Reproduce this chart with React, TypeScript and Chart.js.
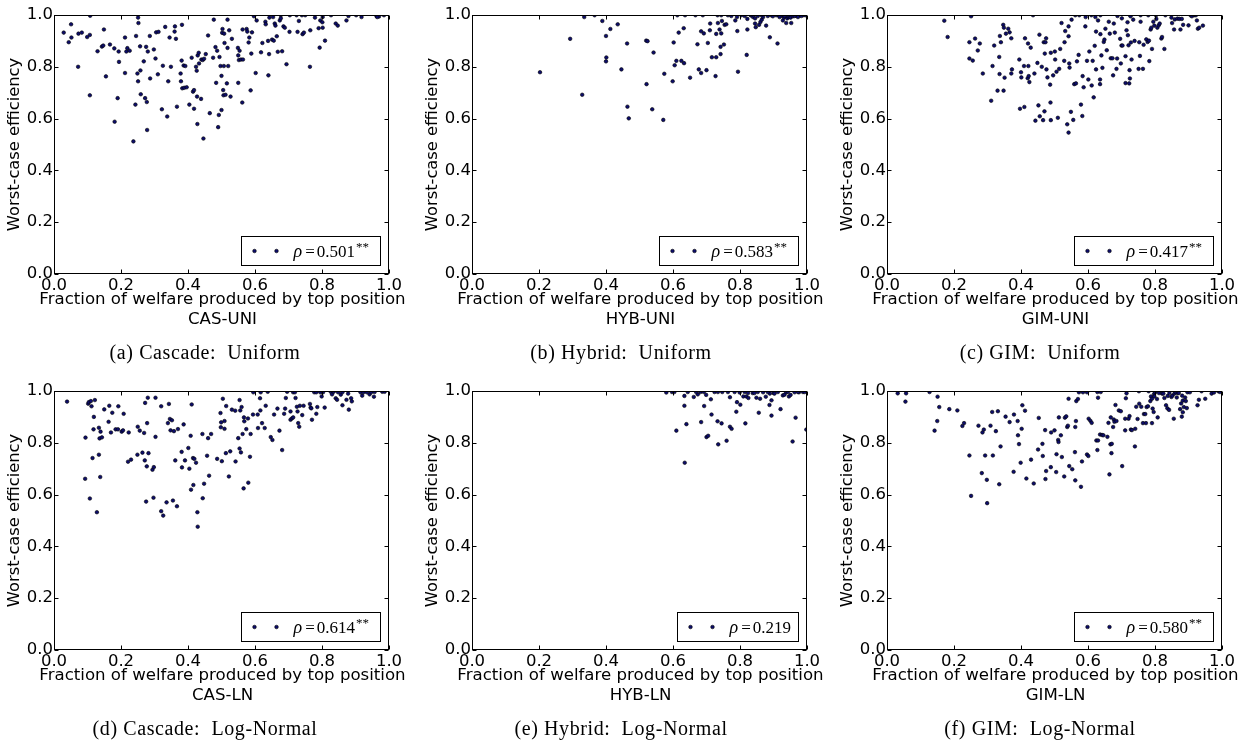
import React, { useEffect, useRef } from "react";
import { Chart, registerables } from "chart.js";
Chart.register(...registerables);

const AXIS_TICKS = [0, 0.2, 0.4, 0.6, 0.8, 1.0];
const X_TITLE = "Fraction of welfare produced by top position";
const Y_TITLE = "Worst-case efficiency";

const CAS_UNI: [number, number][] = [
  [0.029,0.932],[0.044,0.895],[0.051,0.964],[0.052,0.913],[0.073,0.928],[0.083,0.932],[0.072,0.800],[0.099,0.915],
  [0.107,0.923],[0.108,0.997],[0.107,0.690],[0.130,0.860],[0.143,0.878],[0.147,0.882],[0.149,0.944],[0.155,0.763],
  [0.167,0.886],[0.180,0.871],[0.181,0.588],[0.190,0.679],[0.193,0.859],[0.194,0.819],[0.212,0.913],[0.212,0.776],
  [0.216,0.859],[0.219,0.872],[0.226,0.862],[0.237,0.512],[0.243,0.654],[0.245,0.919],[0.249,0.774],[0.251,0.744],
  [0.251,0.990],[0.252,0.969],[0.257,0.879],[0.258,0.786],[0.259,0.694],[0.268,0.821],[0.272,0.679],[0.275,0.877],
  [0.277,0.664],[0.278,0.556],[0.280,0.859],[0.286,0.919],[0.287,0.755],[0.298,0.867],[0.303,0.832],[0.305,0.933],
  [0.312,0.935],[0.310,0.771],[0.322,0.636],[0.325,0.804],[0.332,0.954],[0.338,0.608],[0.341,0.744],[0.345,0.913],
  [0.349,0.800],[0.360,0.936],[0.361,0.956],[0.364,0.908],[0.367,0.646],[0.378,0.774],[0.379,0.744],[0.381,0.824],
  [0.382,0.962],[0.383,0.717],[0.387,0.805],[0.392,0.803],[0.389,0.719],[0.396,0.721],[0.404,0.654],[0.411,0.835],
  [0.415,0.704],[0.418,0.710],[0.418,0.638],[0.424,0.800],[0.426,0.785],[0.429,0.844],[0.428,0.579],[0.427,0.685],
  [0.432,0.854],[0.433,0.813],[0.439,0.676],[0.440,0.828],[0.444,0.826],[0.446,0.523],[0.448,0.831],[0.453,0.849],
  [0.460,0.921],[0.465,0.621],[0.475,0.835],[0.477,0.982],[0.482,0.876],[0.484,0.738],[0.487,0.862],[0.490,0.567],
  [0.492,0.614],[0.494,0.838],[0.497,0.803],[0.500,0.633],[0.500,0.765],[0.502,0.931],[0.503,0.946],[0.505,0.710],
  [0.507,0.803],[0.508,0.928],[0.506,0.690],[0.509,0.892],[0.512,0.692],[0.516,0.736],[0.518,0.873],[0.518,0.982],
  [0.520,0.803],[0.523,0.941],[0.527,0.685],[0.531,0.908],[0.549,0.873],[0.550,0.844],[0.550,0.738],[0.552,0.826],
  [0.554,0.862],[0.558,0.828],[0.563,0.944],[0.562,0.662],[0.564,0.828],[0.575,0.946],[0.577,0.936],[0.581,0.894],
  [0.583,0.913],[0.587,0.709],[0.589,0.851],[0.591,0.933],[0.597,0.995],[0.602,0.776],[0.605,0.979],[0.618,0.856],
  [0.622,0.892],[0.631,0.974],[0.632,0.964],[0.639,0.900],[0.640,0.767],[0.642,0.849],[0.643,0.990],[0.651,0.905],
  [0.654,0.992],[0.656,0.901],[0.659,0.967],[0.661,0.959],[0.665,0.918],[0.668,0.858],[0.674,0.979],[0.677,0.999],
  [0.677,0.987],[0.681,0.860],[0.685,0.956],[0.689,0.951],[0.694,0.810],[0.703,0.935],[0.704,0.999],[0.724,0.999],
  [0.727,0.935],[0.731,0.977],[0.740,0.999],[0.742,0.926],[0.746,0.932],[0.750,0.999],[0.764,0.800],[0.765,0.941],
  [0.779,0.990],[0.790,0.949],[0.793,0.874],[0.795,0.979],[0.801,0.972],[0.802,0.951],[0.802,0.992],[0.809,0.901],
  [0.827,0.999],[0.841,0.967],[0.847,0.959],[0.873,0.979],[0.879,0.996],[0.902,0.999],[0.918,0.992],[0.963,0.995],
  [0.970,0.994],[0.985,0.999],[0.965,0.992]
];

const HYB_UNI: [number, number][] = [
  [0.203,0.779],[0.293,0.908],[0.329,0.692],[0.335,0.992],[0.366,0.999],[0.389,0.977],[0.400,0.919],[0.401,0.836],
  [0.400,0.821],[0.413,0.946],[0.435,0.964],[0.446,0.790],[0.463,0.890],[0.464,0.646],[0.468,0.601],[0.520,0.901],
  [0.524,0.899],[0.521,0.733],[0.538,0.636],[0.542,0.855],[0.571,0.595],[0.574,0.773],[0.599,0.744],[0.602,0.894],
  [0.605,0.806],[0.610,0.823],[0.617,0.932],[0.613,0.999],[0.625,0.823],[0.633,0.814],[0.632,0.949],[0.636,0.999],
  [0.651,0.758],[0.667,0.999],[0.673,0.887],[0.677,0.790],[0.684,0.776],[0.684,0.937],[0.692,0.929],[0.689,0.999],
  [0.700,0.787],[0.704,0.892],[0.710,0.941],[0.711,0.967],[0.716,0.837],[0.727,0.764],[0.729,0.837],[0.729,0.927],
  [0.734,0.969],[0.739,0.944],[0.742,0.849],[0.742,0.877],[0.744,0.929],[0.746,0.977],[0.752,0.886],[0.754,0.962],
  [0.759,0.964],[0.733,0.999],[0.744,0.999],[0.764,0.999],[0.774,0.996],[0.786,0.979],[0.792,0.938],[0.794,0.781],
  [0.791,0.992],[0.804,0.999],[0.820,0.846],[0.822,0.944],[0.822,0.985],[0.832,0.999],[0.839,0.992],[0.845,0.987],
  [0.845,0.967],[0.847,0.953],[0.857,0.962],[0.861,0.973],[0.865,0.982],[0.869,0.992],[0.878,0.959],[0.889,0.914],
  [0.893,0.999],[0.912,0.890],[0.915,0.999],[0.928,0.979],[0.931,0.990],[0.938,0.969],[0.941,0.987],[0.945,0.992],
  [0.953,0.969],[0.951,0.990],[0.958,0.995],[0.968,0.997],[0.978,0.999],[0.988,0.999],[0.995,0.999],[0.908,0.999],
  [0.923,0.997],[0.864,0.999],[0.853,0.996],[0.814,0.996],[0.898,0.995],[0.933,0.996],[0.963,0.996],[0.973,0.992],
  [0.983,0.996],[0.943,0.999],[0.918,0.992],[0.883,0.996],[0.833,0.999]
];

const GIM_UNI: [number, number][] = [
  [0.171,0.978],[0.181,0.915],[0.251,0.995],[0.246,0.895],[0.246,0.832],[0.256,0.824],[0.263,0.909],[0.271,0.863],
  [0.277,0.890],[0.286,0.774],[0.311,0.669],[0.315,0.803],[0.320,0.882],[0.330,0.708],[0.335,0.838],[0.336,0.772],
  [0.337,0.919],[0.340,0.895],[0.348,0.708],[0.347,0.962],[0.349,0.951],[0.351,0.758],[0.355,0.928],[0.362,0.947],
  [0.366,0.933],[0.371,0.910],[0.371,0.774],[0.373,0.790],[0.395,0.828],[0.397,0.638],[0.400,0.779],[0.401,0.759],
  [0.409,0.803],[0.410,0.645],[0.412,0.910],[0.420,0.756],[0.421,0.890],[0.422,0.803],[0.423,0.764],[0.425,0.741],
  [0.429,0.874],[0.436,0.999],[0.440,0.774],[0.443,0.592],[0.449,0.815],[0.452,0.651],[0.455,0.924],[0.456,0.609],
  [0.462,0.800],[0.466,0.594],[0.468,0.895],[0.470,0.628],[0.471,0.851],[0.473,0.895],[0.475,0.910],[0.476,0.790],
  [0.479,0.759],[0.487,0.731],[0.488,0.662],[0.489,0.594],[0.489,0.854],[0.496,0.767],[0.501,0.859],[0.502,0.828],
  [0.506,0.781],[0.510,0.603],[0.514,0.792],[0.517,0.869],[0.521,0.969],[0.529,0.823],[0.530,0.895],[0.532,0.938],
  [0.538,0.578],[0.542,0.956],[0.542,0.546],[0.542,0.918],[0.544,0.813],[0.545,0.797],[0.549,0.626],[0.551,0.982],
  [0.556,0.595],[0.559,0.733],[0.562,0.999],[0.564,0.736],[0.567,0.821],[0.572,0.846],[0.574,0.999],[0.579,0.654],
  [0.583,0.610],[0.584,0.764],[0.587,0.721],[0.592,0.956],[0.593,0.992],[0.597,0.823],[0.601,0.751],[0.604,0.859],
  [0.611,0.728],[0.610,0.999],[0.614,0.823],[0.617,0.682],[0.620,0.881],[0.622,0.992],[0.624,0.936],[0.624,0.790],
  [0.630,0.979],[0.636,0.751],[0.636,0.733],[0.637,0.999],[0.637,0.926],[0.640,0.844],[0.643,0.796],[0.647,0.896],
  [0.649,0.905],[0.652,0.947],[0.656,0.864],[0.662,0.974],[0.665,0.928],[0.668,0.833],[0.673,0.833],[0.675,0.767],
  [0.677,0.967],[0.680,0.932],[0.685,0.792],[0.688,0.996],[0.687,0.832],[0.696,0.908],[0.698,0.813],[0.701,0.987],
  [0.700,0.882],[0.703,0.882],[0.712,0.841],[0.712,0.737],[0.715,0.941],[0.718,0.972],[0.719,0.922],[0.721,0.883],
  [0.723,0.736],[0.725,0.755],[0.724,0.787],[0.726,0.999],[0.727,0.995],[0.728,0.894],[0.730,0.828],[0.735,0.982],
  [0.739,0.900],[0.751,0.792],[0.753,0.895],[0.755,0.842],[0.757,0.974],[0.757,0.999],[0.764,0.792],[0.766,0.885],
  [0.774,0.906],[0.778,0.896],[0.780,0.999],[0.782,0.901],[0.783,0.822],[0.787,0.944],[0.789,0.951],[0.791,0.869],
  [0.795,0.974],[0.798,0.959],[0.803,0.999],[0.804,0.985],[0.807,0.951],[0.811,0.960],[0.814,0.967],[0.819,0.909],
  [0.821,0.915],[0.828,0.869],[0.831,0.999],[0.849,0.990],[0.851,0.969],[0.857,0.944],[0.859,0.983],[0.867,0.986],
  [0.873,0.985],[0.876,0.944],[0.880,0.985],[0.884,0.962],[0.900,0.960],[0.906,0.999],[0.910,0.995],[0.917,0.999],
  [0.922,0.999],[0.925,0.979],[0.928,0.947],[0.932,0.951],[0.943,0.959]
];

const CAS_LN: [number, number][] = [
  [0.039,0.959],[0.094,0.820],[0.093,0.661],[0.102,0.951],[0.104,0.957],[0.110,0.961],[0.112,0.941],[0.107,0.585],
  [0.115,0.741],[0.118,0.852],[0.119,0.900],[0.122,0.965],[0.128,0.532],[0.134,0.858],[0.134,0.754],[0.136,0.817],
  [0.138,0.668],[0.139,0.843],[0.143,0.821],[0.150,0.929],[0.163,0.881],[0.165,0.943],[0.170,0.840],[0.174,0.916],
  [0.184,0.852],[0.191,0.852],[0.192,0.941],[0.202,0.843],[0.206,0.848],[0.208,0.912],[0.221,0.727],[0.223,0.840],
  [0.230,0.735],[0.249,0.754],[0.250,0.862],[0.256,0.847],[0.264,0.762],[0.269,0.838],[0.271,0.732],[0.272,0.954],
  [0.275,0.573],[0.277,0.709],[0.278,0.876],[0.280,0.974],[0.282,0.760],[0.294,0.696],[0.298,0.706],[0.297,0.588],
  [0.303,0.974],[0.303,0.823],[0.320,0.941],[0.320,0.536],[0.326,0.519],[0.336,0.570],[0.340,0.876],[0.343,0.950],
  [0.346,0.892],[0.348,0.848],[0.352,0.887],[0.355,0.577],[0.358,0.845],[0.362,0.732],[0.367,0.555],[0.370,0.853],
  [0.381,0.765],[0.382,0.705],[0.387,0.871],[0.391,0.732],[0.401,0.780],[0.404,0.700],[0.408,0.827],[0.409,0.619],
  [0.411,0.948],[0.415,0.741],[0.416,0.637],[0.419,0.738],[0.424,0.723],[0.428,0.532],[0.429,0.476],[0.443,0.834],
  [0.444,0.586],[0.448,0.642],[0.457,0.750],[0.460,0.818],[0.463,0.673],[0.469,0.834],[0.487,0.738],[0.497,0.915],
  [0.498,0.860],[0.499,0.879],[0.501,0.729],[0.504,0.970],[0.509,0.884],[0.509,0.854],[0.513,0.760],[0.514,0.942],
  [0.522,0.670],[0.526,0.767],[0.531,0.928],[0.541,0.924],[0.542,0.728],[0.550,0.818],[0.554,0.778],[0.554,0.965],
  [0.556,0.925],[0.558,0.763],[0.560,0.938],[0.563,0.834],[0.566,0.624],[0.567,0.898],[0.568,0.883],[0.574,0.853],
  [0.579,0.894],[0.580,0.646],[0.585,0.746],[0.587,0.834],[0.594,0.909],[0.595,0.995],[0.608,0.909],[0.609,0.857],
  [0.615,0.972],[0.616,0.925],[0.617,0.995],[0.621,0.876],[0.629,0.857],[0.632,0.943],[0.638,0.997],[0.647,0.822],
  [0.652,0.811],[0.657,0.909],[0.667,0.932],[0.673,0.847],[0.681,0.772],[0.687,0.912],[0.690,0.932],[0.692,0.973],
  [0.696,0.997],[0.706,0.889],[0.706,0.921],[0.710,0.894],[0.714,0.898],[0.714,0.995],[0.719,0.995],[0.721,0.973],
  [0.725,0.939],[0.727,0.921],[0.729,0.876],[0.732,0.862],[0.734,0.943],[0.741,0.907],[0.745,0.943],[0.764,0.950],
  [0.766,0.936],[0.768,0.933],[0.770,0.889],[0.783,0.912],[0.786,0.938],[0.777,0.995],[0.783,0.995],[0.795,0.995],
  [0.799,0.979],[0.808,0.936],[0.803,0.995],[0.826,0.997],[0.830,0.987],[0.835,0.997],[0.841,0.972],[0.845,0.966],
  [0.848,0.995],[0.856,0.986],[0.861,0.945],[0.861,0.995],[0.873,0.966],[0.878,0.990],[0.880,0.928],[0.887,0.972],
  [0.889,0.960],[0.915,0.995],[0.920,0.982],[0.924,0.995],[0.934,0.995],[0.942,0.987],[0.947,0.995],[0.955,0.978],
  [0.980,0.997],[0.987,0.997],[0.957,0.996]
];

const HYB_LN: [number, number][] = [
  [0.580,0.994],[0.597,0.996],[0.604,0.996],[0.610,0.847],[0.634,0.981],[0.634,0.943],[0.635,0.723],[0.640,0.872],
  [0.662,0.977],[0.674,0.987],[0.682,0.996],[0.684,0.880],[0.692,0.996],[0.693,0.942],[0.699,0.985],[0.700,0.822],
  [0.705,0.827],[0.713,0.968],[0.715,0.909],[0.724,0.996],[0.733,0.883],[0.735,0.794],[0.745,0.875],[0.747,0.996],
  [0.764,0.996],[0.770,0.976],[0.770,0.862],[0.775,0.854],[0.760,0.808],[0.789,0.920],[0.791,0.957],[0.801,0.947],
  [0.799,0.994],[0.810,0.979],[0.816,0.875],[0.819,0.979],[0.825,0.973],[0.824,0.992],[0.838,0.992],[0.849,0.974],
  [0.856,0.916],[0.860,0.970],[0.869,0.995],[0.877,0.978],[0.888,0.946],[0.889,0.990],[0.894,0.964],[0.894,0.905],
  [0.900,0.992],[0.921,0.930],[0.928,0.983],[0.933,0.986],[0.946,0.979],[0.951,0.985],[0.957,0.805],[0.966,0.897],
  [0.976,0.995],[0.998,0.851],[0.988,0.996],[0.993,0.996],[0.853,0.996],[0.883,0.996],[0.913,0.996],[0.938,0.995],
  [0.963,0.995],[0.814,0.996],[0.734,0.996],[0.669,0.996],[0.784,0.996],[0.644,0.996],[0.943,0.996],[0.973,0.996],
  [0.843,0.992],[0.903,0.990]
];

const GIM_LN: [number, number][] = [
  [0.032,0.991],[0.055,0.959],[0.057,0.991],[0.127,0.996],[0.142,0.847],[0.150,0.884],[0.151,0.978],[0.156,0.938],
  [0.186,0.930],[0.210,0.925],[0.225,0.865],[0.230,0.876],[0.246,0.751],[0.251,0.595],[0.273,0.866],[0.283,0.683],
  [0.285,0.840],[0.289,0.851],[0.293,0.751],[0.298,0.657],[0.299,0.567],[0.309,0.866],[0.314,0.919],[0.316,0.751],
  [0.325,0.845],[0.331,0.922],[0.335,0.640],[0.339,0.786],[0.354,0.901],[0.366,0.880],[0.378,0.688],[0.379,0.909],
  [0.390,0.884],[0.391,0.829],[0.394,0.795],[0.399,0.723],[0.402,0.854],[0.404,0.945],[0.412,0.924],[0.416,0.662],
  [0.430,0.735],[0.438,0.643],[0.451,0.774],[0.453,0.896],[0.464,0.796],[0.465,0.749],[0.472,0.849],[0.473,0.660],
  [0.475,0.691],[0.489,0.706],[0.490,0.840],[0.500,0.848],[0.505,0.687],[0.506,0.756],[0.511,0.811],[0.512,0.803],
  [0.513,0.898],[0.519,0.829],[0.522,0.745],[0.529,0.670],[0.531,0.897],[0.535,0.902],[0.538,0.861],[0.540,0.866],
  [0.542,0.970],[0.544,0.710],[0.553,0.698],[0.561,0.764],[0.562,0.861],[0.564,0.884],[0.565,0.961],[0.570,0.969],
  [0.562,0.655],[0.579,0.630],[0.582,0.728],[0.573,0.995],[0.585,0.995],[0.597,0.995],[0.597,0.755],[0.601,0.749],
  [0.602,0.893],[0.607,0.885],[0.611,0.877],[0.625,0.809],[0.630,0.809],[0.628,0.772],[0.630,0.974],[0.628,0.996],
  [0.638,0.996],[0.636,0.832],[0.642,0.830],[0.646,0.829],[0.658,0.823],[0.661,0.877],[0.664,0.678],[0.667,0.794],
  [0.668,0.898],[0.670,0.760],[0.671,0.796],[0.675,0.861],[0.677,0.890],[0.679,0.881],[0.682,0.946],[0.685,0.884],
  [0.692,0.925],[0.698,0.922],[0.702,0.710],[0.711,0.848],[0.711,0.893],[0.713,0.972],[0.715,0.991],[0.721,0.893],
  [0.724,0.903],[0.728,0.851],[0.731,0.849],[0.740,0.786],[0.741,0.854],[0.744,0.939],[0.748,0.892],[0.752,0.999],
  [0.753,0.951],[0.759,0.939],[0.764,0.876],[0.767,0.911],[0.771,0.911],[0.773,0.876],[0.775,0.938],[0.779,0.941],
  [0.781,0.999],[0.786,0.961],[0.788,0.979],[0.791,0.876],[0.791,0.970],[0.793,0.932],[0.796,0.919],[0.797,0.988],
  [0.798,0.979],[0.801,0.995],[0.806,0.969],[0.808,0.898],[0.812,0.992],[0.821,0.990],[0.825,0.990],[0.828,0.973],
  [0.833,0.945],[0.837,0.933],[0.838,0.981],[0.842,0.927],[0.843,0.992],[0.849,0.977],[0.852,0.982],[0.856,0.893],
  [0.858,0.990],[0.862,0.995],[0.865,0.975],[0.868,0.992],[0.871,0.992],[0.875,0.930],[0.878,0.952],[0.880,0.901],
  [0.883,0.963],[0.883,0.918],[0.886,0.938],[0.890,0.975],[0.892,0.961],[0.895,0.934],[0.897,0.995],[0.904,0.995],
  [0.927,0.945],[0.931,0.966],[0.939,0.999],[0.950,0.970],[0.969,0.990],[0.976,0.994],[0.989,0.999],[0.994,0.996],
  [0.881,0.982]
];

const PANEL_DATA = [CAS_UNI, HYB_UNI, GIM_UNI, CAS_LN, HYB_LN, GIM_LN];
const PANEL_CODES = ["CAS-UNI", "HYB-UNI", "GIM-UNI", "CAS-LN", "HYB-LN", "GIM-LN"];
const PANEL_RHO = ["0.501", "0.583", "0.417", "0.614", "0.219", "0.580"];
const PANEL_STARS = ["**", "**", "**", "**", "", "**"];
const PANEL_CAPTIONS = [
  "(a) Cascade:  Uniform",
  "(b) Hybrid:  Uniform",
  "(c) GIM:  Uniform",
  "(d) Cascade:  Log-Normal",
  "(e) Hybrid:  Log-Normal",
  "(f) GIM:  Log-Normal",
];

// layout (pixels)
const CANVAS_LEFT = [0, 418, 833];
const CANVAS_TOP = [0, 376];
const CANVAS_W = 419;
const CANVAS_H = 340;
const PLOT_CENTER_X = [222.5, 640.5, 1055.5];
const XTITLE_TOP = [289, 665];
const CAPTION_CENTER_X = [205, 621, 1040];
const CAPTION_TOP = [340, 716];

const SANS = "'DejaVu Sans', 'Bitstream Vera Sans', sans-serif";
const SERIF = "'Liberation Serif', 'Times New Roman', serif";

const framePlugin = {
  id: "frameAndLegend",
  afterDatasetsDraw(chart: any, _args: any, opts: any) {
    const { ctx, chartArea: a, scales } = chart;
    const L = Math.round(a.left) + 0.5;
    const R = Math.round(a.right) - 0.5;
    const T = Math.round(a.top) + 0.5;
    const B = Math.round(a.bottom) - 0.5;
    ctx.save();
    ctx.strokeStyle = "#000";
    ctx.lineWidth = 1;
    ctx.strokeRect(L, T, R - L, B - T);
    const tl = 4;
    ctx.beginPath();
    for (const v of AXIS_TICKS) {
      const px = Math.round(scales.x.getPixelForValue(v)) + 0.5;
      ctx.moveTo(px, B);
      ctx.lineTo(px, B - tl);
      ctx.moveTo(px, T);
      ctx.lineTo(px, T + tl);
      const py = Math.round(scales.y.getPixelForValue(v)) + 0.5;
      ctx.moveTo(L, py);
      ctx.lineTo(L + tl, py);
      ctx.moveTo(R, py);
      ctx.lineTo(R - tl, py);
    }
    ctx.stroke();

    // legend
    const rho = opts.rho as string;
    const stars = opts.stars as string;
    const mainFont = `17px ${SERIF}`;
    const italFont = `italic 18px ${SERIF}`;
    const supFont = `13px ${SERIF}`;
    ctx.font = italFont;
    const wRho = ctx.measureText("ρ").width;
    ctx.font = mainFont;
    const wEq = ctx.measureText("=").width;
    const wVal = ctx.measureText(rho).width;
    ctx.font = supFont;
    const wStars = stars ? ctx.measureText(stars).width : 0;
    const textW = wRho + 3 + wEq + 2 + wVal + (stars ? 1 + wStars : 0);
    const bw = Math.round(52 + textW + (stars ? 12 : 8));
    const bh = 29;
    const bx = Math.round(a.right - 9 - bw) + 0.5;
    const by = Math.round(a.bottom - 9 - bh) + 0.5;
    ctx.fillStyle = "#fff";
    ctx.fillRect(bx, by, bw, bh);
    ctx.strokeRect(bx, by, bw, bh);
    const cy = by + bh / 2;
    for (const dx of [13, 35]) {
      ctx.beginPath();
      ctx.arc(bx + dx, cy, 1.8, 0, Math.PI * 2);
      ctx.fillStyle = "#0d0d6b";
      ctx.fill();
      ctx.lineWidth = 0.6;
      ctx.strokeStyle = "#000";
      ctx.stroke();
    }
    ctx.fillStyle = "#000";
    ctx.textBaseline = "alphabetic";
    ctx.textAlign = "left";
    let x = bx + 52;
    const base = cy + 5.5;
    ctx.font = italFont;
    ctx.fillText("ρ", x, base);
    x += wRho + 3;
    ctx.font = mainFont;
    ctx.fillText("=", x, base);
    x += wEq + 2;
    ctx.fillText(rho, x, base);
    x += wVal + 1;
    if (stars) {
      ctx.font = supFont;
      ctx.fillText(stars, x, base - 6);
    }
    ctx.restore();
  },
};

function Panel({ index }: { index: number }) {
  const ref = useRef<HTMLCanvasElement | null>(null);
  useEffect(() => {
    if (!ref.current) return;
    const pts = PANEL_DATA[index].map(([x, y]) => ({ x, y }));
    const tickFont = { family: SANS, size: 16.5 };
    const chart = new Chart(ref.current, {
      type: "scatter",
      data: {
        datasets: [
          {
            data: pts,
            pointRadius: 1.8,
            pointHoverRadius: 1.8,
            backgroundColor: "#0d0d6b",
            borderColor: "#000",
            borderWidth: 0.6,
          },
        ],
      },
      options: {
        animation: false,
        responsive: false,
        devicePixelRatio: 1,
        events: [],
        layout: { padding: { top: 15, right: 30, bottom: 0, left: 0 } },
        plugins: {
          legend: { display: false },
          tooltip: { enabled: false },
          frameAndLegend: { rho: PANEL_RHO[index], stars: PANEL_STARS[index] },
        } as any,
        scales: {
          x: {
            type: "linear",
            min: 0,
            max: 1,
            afterFit: (s: any) => {
              s.height = CANVAS_H - 15 - 259;
            },
            afterBuildTicks: (s: any) => {
              s.ticks = AXIS_TICKS.map((v) => ({ value: v }));
            },
            grid: { display: false, drawTicks: false },
            border: { display: false },
            ticks: {
              padding: 2,
              color: "#000",
              font: tickFont,
              maxRotation: 0,
              autoSkip: false,
              callback: (v: any) => Number(v).toFixed(1),
            },
          },
          y: {
            type: "linear",
            min: 0,
            max: 1,
            afterFit: (s: any) => {
              s.width = 54;
            },
            afterBuildTicks: (s: any) => {
              s.ticks = AXIS_TICKS.map((v) => ({ value: v }));
            },
            grid: { display: false, drawTicks: false },
            border: { display: false },
            title: {
              display: true,
              text: Y_TITLE,
              color: "#000",
              font: { family: SANS, size: 16.3 },
              padding: { top: 5, bottom: 0 },
            },
            ticks: {
              padding: 1,
              color: "#000",
              font: tickFont,
              autoSkip: false,
              callback: (v: any) => Number(v).toFixed(1),
            },
          },
        },
      },
      plugins: [framePlugin],
    } as any);
    return () => chart.destroy();
  }, [index]);

  const col = index % 3;
  const row = Math.floor(index / 3);
  return (
    <>
      <canvas
        ref={ref}
        width={CANVAS_W}
        height={CANVAS_H}
        style={{
          position: "absolute",
          left: CANVAS_LEFT[col],
          top: CANVAS_TOP[row],
          width: CANVAS_W,
          height: CANVAS_H,
        }}
      />
      <div
        style={{
          position: "absolute",
          left: PLOT_CENTER_X[col] - 250,
          top: XTITLE_TOP[row],
          width: 500,
          textAlign: "center",
          fontFamily: SANS,
          fontSize: 16.6,
          lineHeight: "19.5px",
          color: "#000",
        }}
      >
        <div>{X_TITLE}</div>
        <div>{PANEL_CODES[index]}</div>
      </div>
      <div
        style={{
          position: "absolute",
          left: CAPTION_CENTER_X[col] - 200,
          top: CAPTION_TOP[row],
          width: 400,
          textAlign: "center",
          fontFamily: SERIF,
          fontSize: 20,
          lineHeight: "24px",
          letterSpacing: "0.6px",
          whiteSpace: "pre",
          color: "#000",
        }}
      >
        {PANEL_CAPTIONS[index]}
      </div>
    </>
  );
}

export default function App() {
  return (
    <div
      style={{
        position: "absolute",
        left: 0,
        top: 0,
        width: 1253,
        height: 742,
        background: "#fff",
        overflow: "hidden",
      }}
    >
      {[0, 1, 2, 3, 4, 5].map((i) => (
        <Panel key={i} index={i} />
      ))}
    </div>
  );
}
